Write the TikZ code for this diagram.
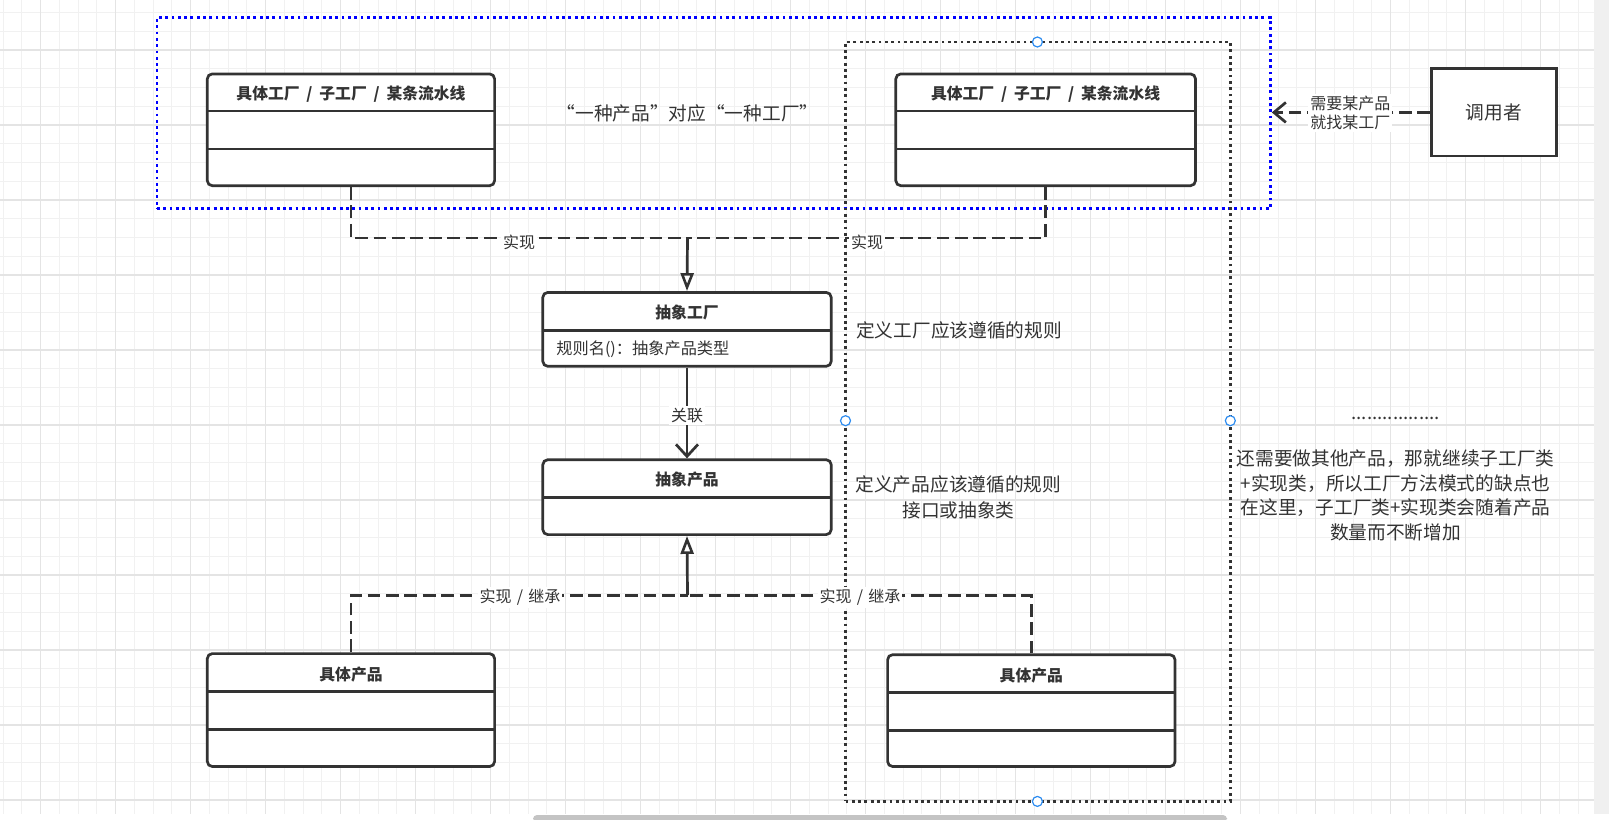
\documentclass[tikz,border=0pt]{standalone}
\usepackage{fontspec}
\setmainfont{Noto Sans CJK SC}
\usetikzlibrary{arrows.meta,fit,calc}
\definecolor{ink}{HTML}{333333}
\definecolor{gridminor}{HTML}{F1F1F1}
\definecolor{gridmajor}{HTML}{E4E4E4}
\definecolor{selblue}{HTML}{2D8CF0}
\definecolor{stripgray}{HTML}{F0F0F0}
\definecolor{scrollgray}{HTML}{C4C4C4}
\newcommand\wsl{ \hspace{1.6pt}/\hspace{1.6pt} }
\newcommand\lsl{ \hspace{0.8pt}/\hspace{0.8pt} }
\begin{document}
\begin{tikzpicture}[x=0.5pt,y=-0.5pt,
  font=\fontsize{9.35pt}{12.3pt}\selectfont, text=ink,
  umlbox/.style={draw=ink, line width=1.35pt, rounded corners=2.5pt, fill=white, inner sep=0pt},
  plainbox/.style={draw=ink, line width=1.35pt, fill=white, inner sep=0pt},
  divline/.style={draw=ink, line width=1.3pt},
  ttl/.style={font=\fontsize{7.9pt}{10pt}\selectfont\bfseries, text=ink, inner sep=0pt},
  attr/.style={font=\fontsize{8.1pt}{10pt}\selectfont, text=ink, inner sep=0pt},
  txt/.style={text=ink, inner sep=0pt},
  lbl/.style={font=\fontsize{8pt}{9.75pt}\selectfont, fill=white, inner sep=1pt, text=ink},
  dashline/.style={draw=ink, line width=1.4pt, dash pattern=on 6.4pt off 2.8pt},
  solidline/.style={draw=ink, line width=1.35pt},
  bluedot/.style={draw=blue, line width=1.35pt, dash pattern=on 1.4pt off 1.75pt},
  blackdot/.style={draw=ink, line width=1.35pt, dash pattern=on 1.4pt off 1.75pt},
  handle/.style={circle, draw=selblue, fill=white, line width=0.6pt, minimum size=5pt, inner sep=0pt},
  hollowtri/.style={-{Triangle[length=9pt,width=6.5pt,fill=white,line width=1.3pt]}},
  barb/.style={-{Straight Barb[length=6pt,width=11pt,line width=1.35pt]}}
]
\useasboundingbox (0,0) rectangle (1609,819);
\fill[white] (0,0) rectangle (1609,819);
% grid
\foreach \i in {0,...,84} \draw[gridminor, line width=0.5pt] ({3.2+18.75*\i},0) -- ({3.2+18.75*\i},814);
\foreach \j in {0,...,42} \draw[gridminor, line width=0.5pt] (0,{12.5+18.75*\j}) -- (1594,{12.5+18.75*\j});
\foreach \i in {0,...,20} \draw[gridmajor, line width=0.6pt] ({40.7+75*\i},0) -- ({40.7+75*\i},814);
\foreach \j in {0,...,10} \draw[gridmajor, line width=0.6pt] (0,{50+75*\j}) -- (1594,{50+75*\j});
\fill[stripgray] (1594,0) rectangle (1609,814);
\fill[scrollgray, rounded corners=2pt] (533,815) rectangle (1227,822);

% group frames
\path (157,17.5) coordinate (g1) (1270.4,208.3) coordinate (g2);
\node[fit=(g1)(g2), inner sep=0pt, bluedot] (grp) {};
\path (845.5,42) coordinate (d1) (1230.3,801.4) coordinate (d2);
\node[fit=(d1)(d2), inner sep=0pt, blackdot] (dgrp) {};

% class boxes
\path (207.3,73.9) coordinate (a1) (494.6,185.7) coordinate (a2);
\node[fit=(a1)(a2), umlbox] (ftl) {};
\draw[divline] (207.3,110.8) -- (494.6,110.8);
\draw[divline] (207.3,148.8) -- (494.6,148.8);
\node[ttl] (ftlt) at (351,94) {具体工厂\wsl 子工厂\wsl 某条流水线};

\path (895.8,73.9) coordinate (b1) (1195.5,185.7) coordinate (b2);
\node[fit=(b1)(b2), umlbox] (ftr) {};
\draw[divline] (895.8,110.8) -- (1195.5,110.8);
\draw[divline] (895.8,148.8) -- (1195.5,148.8);
\node[ttl] (ftrt) at (1045.6,94) {具体工厂\wsl 子工厂\wsl 某条流水线};

\path (542.8,292.4) coordinate (c1) (831.2,366.3) coordinate (c2);
\node[fit=(c1)(c2), umlbox] (af) {};
\draw[divline] (542.8,330.4) -- (831.2,330.4);
\node[ttl] (aft) at (687,312) {抽象工厂};
\node[attr, anchor=west] (afa) at (556,349.5) {规则名()：抽象产品类型};

\path (542.8,459.7) coordinate (e1) (831.2,534.6) coordinate (e2);
\node[fit=(e1)(e2), umlbox] (ap) {};
\draw[divline] (542.8,497.7) -- (831.2,497.7);
\node[ttl] (apt) at (687,479.5) {抽象产品};

\path (207.3,653.6) coordinate (p1) (494.6,766.5) coordinate (p2);
\node[fit=(p1)(p2), umlbox] (pl) {};
\draw[divline] (207.3,691.6) -- (494.6,691.6);
\draw[divline] (207.3,729.6) -- (494.6,729.6);
\node[ttl] (plt) at (351,674.5) {具体产品};

\path (887.6,654.7) coordinate (r1) (1175,766.5) coordinate (r2);
\node[fit=(r1)(r2), umlbox] (pr) {};
\draw[divline] (887.6,692.6) -- (1175,692.6);
\draw[divline] (887.6,730.6) -- (1175,730.6);
\node[ttl] (prt) at (1031.3,675.5) {具体产品};

\node[plainbox, minimum width=62.55pt, minimum height=43.6pt] (caller) at (1494,112.4) {调用者};

% connectors
\coordinate (jf) at (687.5,238);
\draw[dashline] (ftl.south) |- (jf);
\draw[dashline] (ftr.south) |- (jf);
\draw[solidline, hollowtri] (jf) -- (af.north);
\node[lbl] (lf1) at (519,242) {实现};
\node[lbl] (lf2) at (867,242) {实现};

\draw[solidline, barb] (af.south) -- (ap.north) node[lbl, pos=0.53] (assoc) {关联};

\coordinate (jp) at (687.5,595.2);
\draw[dashline] (pl.north) |- (jp);
\draw[dashline] (pr.north) |- (jp);
\draw[solidline, hollowtri] (jp) -- (ap.south);
\node[lbl] (lp1) at (520,597.5) {实现\lsl 继承};
\node[lbl] (lp2) at (860,597.5) {实现\lsl 继承};

\draw[dashline, -{Straight Barb[length=6pt,width=10pt,line width=1.35pt]}] (caller.west) -- (caller.west -| grp.east);
\node[lbl, align=center] (ask) at (1350.4,112.9) {需要某产品\\就找某工厂};

% free texts
\node[txt] (quote) at (687.5,112.9) {“一种产品”对应“一种工厂”};
\node[txt, anchor=west] (rulef) at (855.8,330.4) {定义工厂应该遵循的规则};
\node[txt, align=center, font=\fontsize{9.35pt}{12.8pt}\selectfont] (rulep) at (958.4,497.2) {定义产品应该遵循的规则\\接口或抽象类};
\node[txt] (dots) at (1395.6,418) {.................};
\node[txt, align=center, font=\fontsize{9.35pt}{12.3pt}\selectfont] (note) at (1395.6,495.6) {还需要做其他产品，那就继续子工厂类\\+实现类，所以工厂方法模式的缺点也\\在这里，子工厂类+实现类会随着产品\\数量而不断增加};

% selection handles
\node[handle] (h1) at (1037.4,42) {};
\node[handle] (h2) at (845.5,420.7) {};
\node[handle] (h3) at (1230.3,420.7) {};
\node[handle] (h4) at (1037.4,801.4) {};
\end{tikzpicture}
\end{document}
